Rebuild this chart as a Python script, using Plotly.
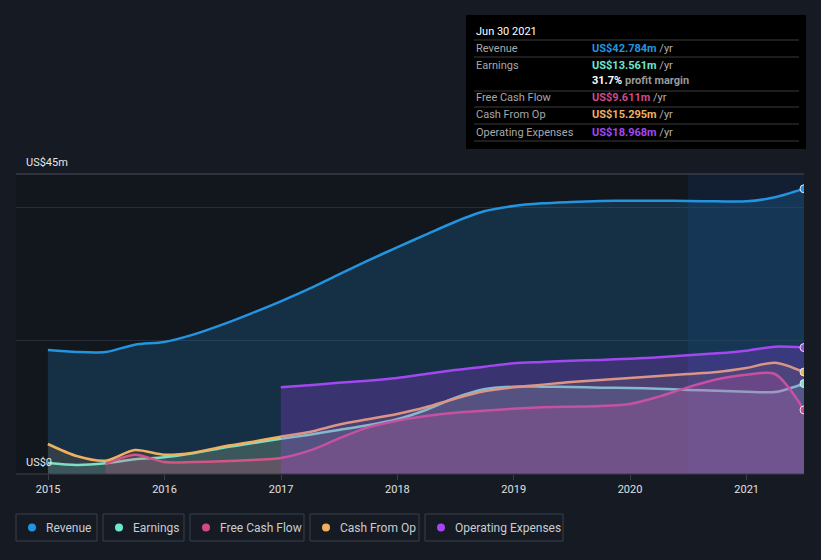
import plotly.graph_objects as go

# ---------------- data (US$ millions, trailing twelve months) ----------------
dates = ["2014-12-31", "2015-03-31", "2015-06-30", "2015-09-30",
         "2015-12-31", "2016-03-31", "2016-06-30", "2016-09-30",
         "2016-12-31", "2017-03-31", "2017-06-30", "2017-09-30",
         "2017-12-31", "2018-03-31", "2018-06-30", "2018-09-30",
         "2018-12-31", "2019-03-31", "2019-06-30", "2019-09-30",
         "2019-12-31", "2020-03-31", "2020-06-30", "2020-09-30",
         "2020-12-31", "2021-03-31", "2021-06-30"]

revenue = [18.6, 18.3, 18.3, 19.4, 19.8, 20.9, 22.4, 24.1, 25.9, 27.8, 29.9, 32.0,
           34.0, 35.9, 37.8, 39.4, 40.2, 40.6, 40.8, 40.95, 41.0, 41.0, 40.95, 40.9,
           40.9, 41.5, 42.784]
earnings = [1.65, 1.35, 1.6, 2.2, 2.5, 3.1, 3.9, 4.6, 5.3, 5.9, 6.6, 7.3,
            8.2, 9.6, 11.4, 12.7, 13.1, 13.1, 13.05, 12.95, 12.9, 12.8, 12.6, 12.5,
            12.35, 12.3, 13.561]
free_cash_flow = [None, None, 1.5, 2.9, 1.8, 1.8, 1.9, 2.1, 2.4, 3.5, 5.3, 7.0,
                  8.0, 8.7, 9.2, 9.5, 9.8, 10.0, 10.1, 10.2, 10.5, 11.6, 13.0, 14.2,
                  14.9, 15.0, 9.611]
cash_from_op = [4.5, 2.7, 2.0, 3.6, 2.9, 3.2, 4.1, 4.8, 5.6, 6.3, 7.4, 8.2,
                9.0, 10.0, 11.3, 12.4, 13.0, 13.4, 13.8, 14.1, 14.4, 14.7, 15.0, 15.3,
                15.9, 16.7, 15.295]
operating_expenses = [None] * 8 + [13.0, 13.3, 13.7, 14.0, 14.4, 15.0, 15.6, 16.1,
                                   16.6, 16.8, 17.0, 17.1, 17.3, 17.5, 17.8, 18.1,
                                   18.5, 19.1, 18.968]

series_names = ["Revenue", "Earnings", "Free Cash Flow", "Cash From Op", "Operating Expenses"]
series_values = [revenue, earnings, free_cash_flow, cash_from_op, operating_expenses]
series_colors = ["#2394df", "#6ee7d0", "#d0498a", "#f0b060", "#a347f0"]
fill_colors = ["rgba(35,148,223,0.20)", "rgba(110,231,208,0.16)", "rgba(208,73,138,0.24)",
               "rgba(240,176,96,0.12)", "rgba(163,71,240,0.26)"]

tooltip_date = "Jun 30 2021"
tooltip_values = ["US$42.784m", "US$13.561m", "US$9.611m", "US$15.295m", "US$18.968m"]
profit_margin = "31.7%"
year_ticks = ["2015", "2016", "2017", "2018", "2019", "2020", "2021"]

# ---------------- figure ----------------
W, H = 821, 560
L, R, T, B = 16, 17, 174, 86
PW, PH = W - L - R, H - T - B


def px(x):
    return (x - L) / PW


def py(y):
    return (H - B - y) / PH


fig = go.Figure()

for name, vals, col, fcol in zip(series_names, series_values, series_colors, fill_colors):
    xs = [d for d, v in zip(dates, vals) if v is not None]
    ys = [v for v in vals if v is not None]
    fig.add_trace(go.Scatter(
        x=xs, y=ys, name=name, mode="lines",
        line=dict(color=col, width=2.5, shape="spline", smoothing=0.8),
        fill="tozeroy", fillcolor=fcol, hoverinfo="skip", showlegend=False))

for name, vals, col in zip(series_names, series_values, series_colors):
    fig.add_trace(go.Scatter(
        x=[dates[-1]], y=[vals[-1]], mode="markers", showlegend=False, hoverinfo="skip",
        marker=dict(color=col, size=8, line=dict(color="#e8e8f0", width=1))))

shapes = []
# highlighted last year
shapes.append(dict(type="rect", xref="x", yref="paper", x0="2020-06-30", x1="2021-06-30",
                   y0=0, y1=1, fillcolor="rgba(20,80,170,0.16)", line=dict(width=0), layer="below"))
# top line
shapes.append(dict(type="line", xref="paper", yref="paper", x0=0, x1=1, y0=1, y1=1,
                   line=dict(color="#4a4f58", width=1)))
# bottom axis line
shapes.append(dict(type="line", xref="paper", yref="paper", x0=0, x1=1, y0=0, y1=0,
                   line=dict(color="#3a3f48", width=1)))

annotations = []
annotations.append(dict(text="US$45m", x=px(24), y=py(162), xref="paper", yref="paper",
                        xanchor="left", yanchor="middle", showarrow=False,
                        font=dict(size=11, color="#e6e6e6")))
annotations.append(dict(text="US$0", x=px(24), y=py(462), xref="paper", yref="paper",
                        xanchor="left", yanchor="middle", showarrow=False,
                        font=dict(size=11, color="#e6e6e6")))

# tooltip box
shapes.append(dict(type="rect", xref="paper", yref="paper", x0=px(466), x1=px(806),
                   y0=py(149), y1=py(15), fillcolor="#000000", line=dict(width=0)))
for ly in [40, 57, 91, 107, 124, 141]:
    shapes.append(dict(type="line", xref="paper", yref="paper", x0=px(474), x1=px(799),
                       y0=py(ly), y1=py(ly), line=dict(color="#3a3a3a", width=1)))
annotations.append(dict(text=tooltip_date, x=px(474), y=py(31), xref="paper", yref="paper",
                        xanchor="left", yanchor="middle", showarrow=False,
                        font=dict(size=11, color="#ffffff")))
row_y = [48, 65, 98, 115, 132]
for name, val, col, ry in zip(series_names, tooltip_values, series_colors, row_y):
    annotations.append(dict(text=name, x=px(474), y=py(ry), xref="paper", yref="paper",
                            xanchor="left", yanchor="middle", showarrow=False,
                            font=dict(size=11, color="#a8a8a8")))
    annotations.append(dict(text=f"<b><span style='color:{col}'>{val}</span></b> <span style='color:#b0b0b0'>/yr</span>",
                            x=px(590), y=py(ry), xref="paper", yref="paper",
                            xanchor="left", yanchor="middle", showarrow=False,
                            font=dict(size=11, color="#a8a8a8")))
annotations.append(dict(text=f"<b><span style='color:#ffffff'>{profit_margin}</span></b> <b>profit margin</b>",
                        x=px(590), y=py(81), xref="paper", yref="paper",
                        xanchor="left", yanchor="middle", showarrow=False,
                        font=dict(size=11, color="#9a9a9a")))

# legend boxes
legend_boxes = [(16, 97), (103, 184), (190, 304), (310, 419), (425, 563)]
for (x0, x1), name, col in zip(legend_boxes, series_names, series_colors):
    shapes.append(dict(type="rect", xref="paper", yref="paper", x0=px(x0), x1=px(x1),
                       y0=py(541), y1=py(514), line=dict(color="#3a404a", width=1),
                       fillcolor="rgba(0,0,0,0)"))
    shapes.append(dict(type="circle", xref="paper", yref="paper", x0=px(x0 + 12), x1=px(x0 + 20),
                       y0=py(531.5), y1=py(523.5), fillcolor=col, line=dict(width=0)))
    annotations.append(dict(text=name, x=px(x0 + 28), y=py(527.5), xref="paper", yref="paper",
                            xanchor="left", yanchor="middle", showarrow=False,
                            font=dict(size=12, color="#c8ccd4")))

fig.update_layout(
    width=W, height=H,
    margin=dict(l=L, r=R, t=T, b=B, pad=0),
    paper_bgcolor="#151a23",
    plot_bgcolor="#12161d",
    font=dict(family="Roboto, sans-serif"),
    shapes=shapes, annotations=annotations,
    showlegend=False,
    xaxis=dict(type="date", range=["2014-09-22", "2021-06-30"],
               tickvals=[f"{y}-01-01" for y in year_ticks], ticktext=year_ticks,
               showgrid=False, zeroline=False, showline=False,
               ticks="outside", ticklen=5, tickcolor="#3a3f48",
               tickfont=dict(size=11, color="#e0e0e0"), fixedrange=True),
    yaxis=dict(range=[0, 45], tickvals=[0, 20, 40], showticklabels=False,
               showgrid=True, gridcolor="#262c36", gridwidth=1, zeroline=False,
               showline=False, fixedrange=True),
)

fig.write_html("out.html", config={"displayModeBar": False},
               post_script="document.body.style.margin='0';document.body.style.background='#151a23';")
